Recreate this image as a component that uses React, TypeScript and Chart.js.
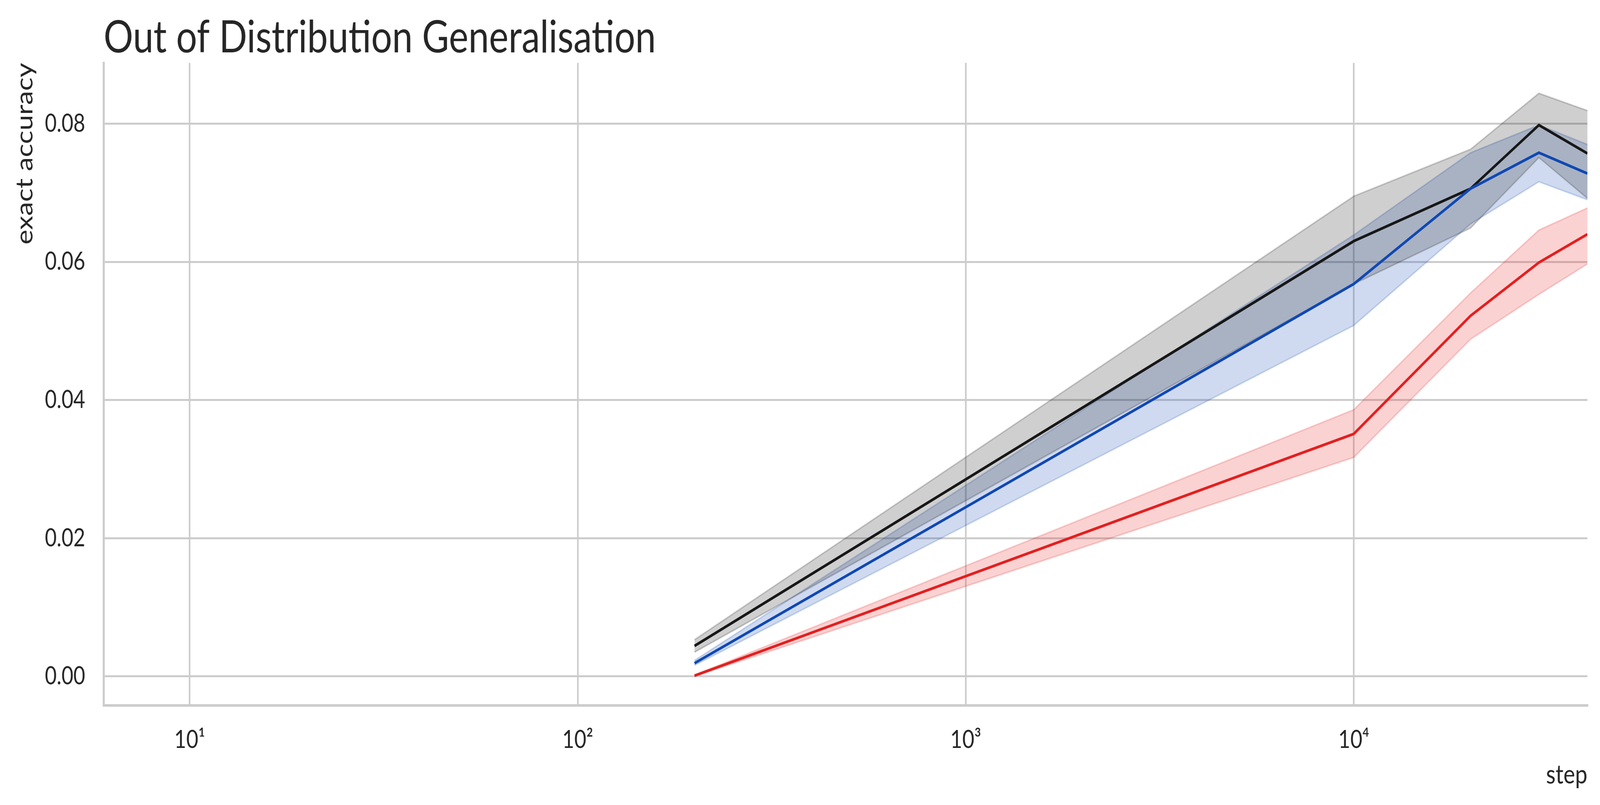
import React, { useEffect, useRef } from 'react';
import { Chart, registerables } from 'chart.js';

Chart.register(...registerables);

// training steps where each run was evaluated
const steps = [200, 10000, 20000, 30000, 40000];

// mean exact accuracy and the spread around it, per series
const blackMean = [0.0044, 0.0630, 0.0706, 0.0798, 0.0757];
const blackUpper = [0.0053, 0.0695, 0.0763, 0.0844, 0.0819];
const blackLower = [0.0035, 0.0568, 0.0649, 0.0751, 0.0692];

const blueMean = [0.0019, 0.0568, 0.0706, 0.0758, 0.0728];
const blueUpper = [0.0023, 0.0639, 0.0758, 0.0798, 0.0770];
const blueLower = [0.0016, 0.0508, 0.0655, 0.0716, 0.0690];

const redMean = [0.0001, 0.0351, 0.0522, 0.0599, 0.0640];
const redUpper = [0.0002, 0.0386, 0.0555, 0.0646, 0.0678];
const redLower = [0.0000, 0.0317, 0.0488, 0.0553, 0.0597];

const xTicks = [10, 100, 1000, 10000];
const xTickLabels = ['10¹', '10²', '10³', '10⁴'];
const yTicks = [0, 0.02, 0.04, 0.06, 0.08];

// the chart is drawn in the reference's own pixels, then fitted to the window
const W = 4941;
const H = 2060;
const FONT = 'Lato, "Noto Sans", sans-serif';
const TEXT = '#262626';
const GRID = '#cccccc';

const pts = (ys: number[]) => steps.map((x, i) => ({ x, y: ys[i] }));

const line = (label: string, ys: number[], color: string) => ({
  label,
  data: pts(ys),
  borderColor: color,
  borderWidth: 7,
  pointRadius: 0,
  fill: false,
  order: 0,
});

const band = (label: string, ys: number[], rgb: string, fill: string | boolean) => ({
  label,
  data: pts(ys),
  borderColor: `rgba(${rgb},0.2)`,
  backgroundColor: `rgba(${rgb},0.2)`,
  borderWidth: 4,
  pointRadius: 0,
  fill,
  order: 1,
});

export default function App() {
  const canvasRef = useRef<HTMLCanvasElement | null>(null);
  const chartRef = useRef<Chart | null>(null);

  const vw = typeof window !== 'undefined' ? window.innerWidth : W;
  const vh = typeof window !== 'undefined' ? window.innerHeight : H;

  useEffect(() => {
    document.body.style.margin = '0';
    document.body.style.overflow = 'hidden';
    if (!canvasRef.current) return;
    if (chartRef.current) chartRef.current.destroy();

    chartRef.current = new Chart(canvasRef.current, {
      type: 'line',
      data: {
        datasets: [
          band('black hi', blackUpper, '17,17,17', '+1'),
          band('black lo', blackLower, '17,17,17', false),
          band('blue hi', blueUpper, '16,72,179', '+1'),
          band('blue lo', blueLower, '16,72,179', false),
          band('red hi', redUpper, '228,31,31', '+1'),
          band('red lo', redLower, '228,31,31', false),
          line('red', redMean, '#e41f1f'),
          line('blue', blueMean, '#1048b3'),
          line('black', blackMean, '#171717'),
        ] as any,
      },
      options: {
        responsive: false,
        devicePixelRatio: 1,
        animation: false,
        layout: { padding: { left: 0, top: 0, bottom: 0, right: 39 } },
        elements: { line: { tension: 0 } },
        plugins: {
          legend: { display: false },
          tooltip: { enabled: false },
          title: {
            display: true,
            text: 'Out of Distribution Generalisation',
            align: 'start',
            fullSize: false,
            color: TEXT,
            font: { family: FONT, size: 114, weight: 'normal', lineHeight: 1 },
            padding: { top: 40, bottom: 7 },
          },
        },
        scales: {
          x: {
            type: 'logarithmic',
            min: 6,
            max: 40000,
            afterBuildTicks: (s: any) => {
              s.ticks = xTicks.map((v) => ({ value: v }));
            },
            afterFit: (s: any) => {
              s.height = 255;
            },
            ticks: {
              color: TEXT,
              font: { family: FONT, size: 64 },
              padding: 50,
              autoSkip: false,
              maxRotation: 0,
              callback: (v: any) => {
                const i = xTicks.indexOf(Number(v));
                return i >= 0 ? xTickLabels[i] : '';
              },
            },
            grid: { color: GRID, lineWidth: 5, drawTicks: false },
            border: { display: true, color: GRID, width: 6.5 },
            title: {
              display: true,
              text: 'step',
              align: 'end',
              color: TEXT,
              font: { family: FONT, size: 68 },
              padding: { top: 0, bottom: 36 },
            },
          },
          y: {
            min: -0.0042,
            max: 0.0888,
            afterBuildTicks: (s: any) => {
              s.ticks = yTicks.map((v) => ({ value: v }));
            },
            afterFit: (s: any) => {
              s.width = 320;
            },
            ticks: {
              color: TEXT,
              font: { family: FONT, size: 63 },
              padding: 57,
              callback: (v: any) => Number(v).toFixed(2),
            },
            grid: { color: GRID, lineWidth: 5, drawTicks: false },
            border: { display: true, color: GRID, width: 6.5 },
            title: {
              display: true,
              text: 'exact accuracy',
              align: 'end',
              color: TEXT,
              font: { family: FONT, size: 72 },
              padding: { top: 34, bottom: 0 },
            },
          },
        },
      },
    });

    return () => {
      if (chartRef.current) {
        chartRef.current.destroy();
        chartRef.current = null;
      }
    };
  }, []);

  return (
    <div style={{ width: vw, height: vh, background: '#ffffff' }}>
      <canvas
        ref={canvasRef}
        width={W}
        height={H}
        style={{ display: 'block', width: vw, height: vh }}
      />
    </div>
  );
}
